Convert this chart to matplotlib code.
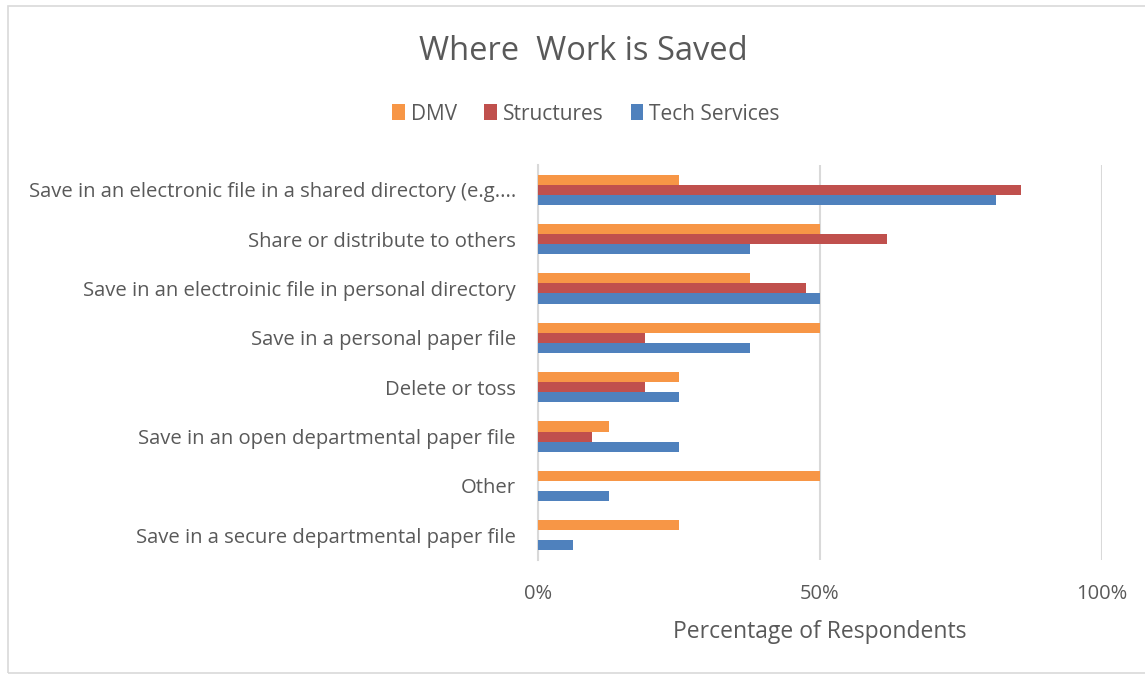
import numpy as np
import matplotlib
matplotlib.use("Agg")
import matplotlib.pyplot as plt
from matplotlib.patches import Rectangle

# categories listed top to bottom
categories = [
    "Save in an electronic file in a shared directory (e.g....",
    "Share or distribute to others",
    "Save in an electroinic file in personal directory",
    "Save in a personal paper file",
    "Delete or toss",
    "Save in an open departmental paper file",
    "Other",
    "Save in a secure departmental paper file",
]
dmv = [25.0, 50.0, 37.5, 50.0, 25.0, 12.5, 50.0, 25.0]
structures = [85.7, 61.9, 47.6, 19.0, 19.0, 9.5, 0.0, 0.0]
tech_services = [81.25, 37.5, 50.0, 37.5, 25.0, 25.0, 12.5, 6.25]

series = [("DMV", dmv, "#f79646"),
          ("Structures", structures, "#c0504d"),
          ("Tech Services", tech_services, "#4f81bd")]

plt.rcParams["font.family"] = ["Open Sans", "DejaVu Sans"]
txt = "#595959"

fig = plt.figure(figsize=(11.45, 6.75), dpi=100)
W, H = 1145, 675
ax = fig.add_axes([538 / W, 1 - 560 / H, (1102 - 538) / W, (560 - 165) / H])

# outer chart border
fig.patches.append(Rectangle((8 / W, 2 / H), 1.2, 1 - 8 / H, transform=fig.transFigure,
                             fill=False, edgecolor="#d9d9d9", linewidth=1.2))

n = len(categories)
y = np.arange(n)
bh = 0.205
for i, (name, vals, col) in enumerate(series):
    ax.barh(y + (i - 1) * bh, vals, height=bh, color=col, label=name, zorder=3)

ax.set_ylim(n - 0.5, -0.5)
ax.set_xlim(0, 100)
ax.set_xticks([0, 50, 100])
ax.set_xticklabels(["0%", "50%", "100%"], fontsize=14.5, color=txt)
ax.set_yticks(y)
ax.set_yticklabels(categories, fontsize=14.6, color=txt)
ax.tick_params(axis="both", length=0)
ax.tick_params(axis="y", pad=16)
ax.tick_params(axis="x", pad=17)
ax.grid(axis="x", color="#d9d9d9", linewidth=1.5, zorder=0)
for s in ["top", "right", "bottom"]:
    ax.spines[s].set_visible(False)
ax.spines["left"].set_color("#d9d9d9")
ax.spines["left"].set_linewidth(1.5)
ax.set_xlabel("Percentage of Respondents", fontsize=16.5, color=txt, labelpad=12)

fig.text(583 / W, 1 - 51 / H, "Where  Work is Saved", fontsize=23.5, color=txt,
         ha="center", va="center")
fig.legend(loc="center", bbox_to_anchor=(586 / W, 1 - 114 / H), ncol=3, frameon=False,
           fontsize=15, labelcolor=txt, handlelength=0.6, handleheight=0.8,
           handletextpad=0.3, columnspacing=1.3)

fig.savefig("out.png", dpi=100, facecolor="white")
